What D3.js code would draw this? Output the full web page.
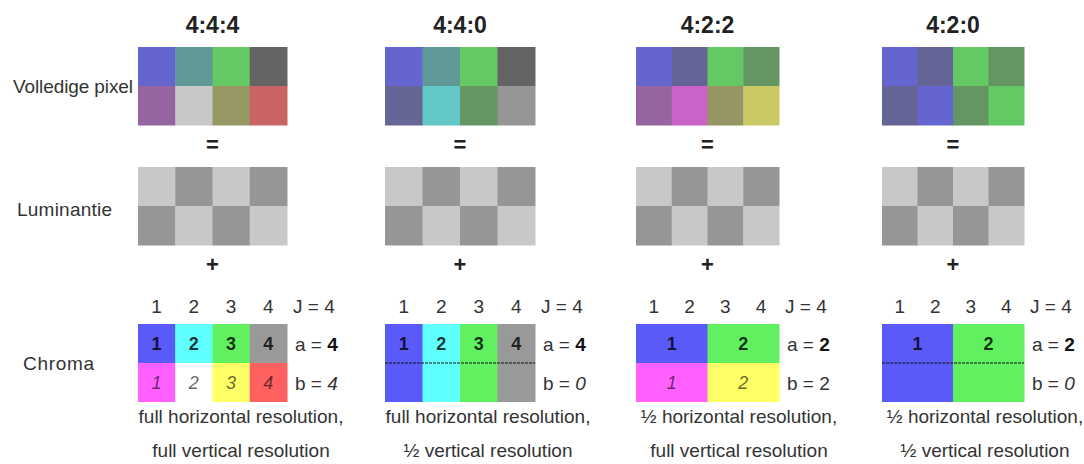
<!DOCTYPE html>
<html>
<head>
<meta charset="utf-8">
<script src="https://cdn.jsdelivr.net/npm/d3@7"></script>
<style>
    body { margin: 0; background: #fff; }
</style>
</head>
<body>
<script>
// chroma subsampling schemes, left to right
const schemes = ['4:4:4', '4:4:0', '4:2:2', '4:2:0'];
const rowLabels = ['Volledige pixel', 'Luminantie', 'Chroma'];

// resulting full pixel colours, [top row, bottom row] per scheme
const pixelColors = [
    [['#6565d0', '#609898', '#64c864', '#646464'], ['#9664a0', '#c8c8c8', '#989864', '#c86464']],
    [['#6565d0', '#609898', '#64c864', '#646464'], ['#656596', '#64c8c8', '#649664', '#969696']],
    [['#6565d0', '#646496', '#64c864', '#649664'], ['#9664a0', '#c864c8', '#969664', '#c8c864']],
    [['#6565d0', '#646496', '#64c864', '#649664'], ['#646496', '#6565d0', '#649664', '#64c864']]
];

// luma is the same checkerboard for every scheme
const lumaColors = [
    ['#c8c8c8', '#969696', '#c8c8c8', '#969696'],
    ['#969696', '#c8c8c8', '#969696', '#c8c8c8']
];

// J:a:b values
const jValues = [4, 4, 4, 4];
const aValues = [4, 4, 2, 2];
const bValues = [4, 0, 2, 0];

// chroma samples: first row (a of them) and second row (b of them)
const chromaTop = [
    ['#5a5af8', '#60ffff', '#60f060', '#999999'],
    ['#5a5af8', '#60ffff', '#60f060', '#999999'],
    ['#5a5af8', '#60f060'],
    ['#5a5af8', '#60f060']
];
const chromaBottom = [
    ['#ff60ff', '#ffffff', '#ffff66', '#ff6060'],
    [],
    ['#ff60ff', '#ffff66'],
    []
];

const captions = [
    ['full horizontal resolution,', 'full vertical resolution'],
    ['full horizontal resolution,', '\u00bd vertical resolution'],
    ['\u00bd horizontal resolution,', 'full vertical resolution'],
    ['\u00bd horizontal resolution,', '\u00bd vertical resolution']
];

// layout
const width = 1084;
const height = 464;
const panelLeft = [138, 385, 636, 882];
const panelWidth = [149, 150, 143, 142];
const gridHeight = 78;
const rowTops = [47, 167, 324];
const font = '"Liberation Sans", Arial, sans-serif';
const textColor = '#333';

const svg = d3.create('svg')
    .attr('width', width)
    .attr('height', height)
    .attr('font-family', font)
    .attr('font-size', 19);

// row labels on the left
const rowLabelPos = [
    { x: 13, y: 93 },
    { x: 17, y: 216 },
    { x: 23, y: 370 }
];
svg.selectAll('text.row-label')
    .data(rowLabels)
    .join('text')
    .attr('class', 'row-label')
    .attr('x', (d, i) => rowLabelPos[i].x)
    .attr('y', (d, i) => rowLabelPos[i].y)
    .attr('fill', textColor)
    .attr('textLength', (d, i) => [120, 95, 71][i])
    .text(d => d);

schemes.forEach((scheme, p) => {
    const left = panelLeft[p];
    const right = left + panelWidth[p];
    const cx = (left + right) / 2;
    const cols = d3.range(jValues[p]);

    const x = d3.scaleBand()
        .domain(cols)
        .range([left, right]);

    const g = svg.append('g');

    // title
    g.append('text')
        .attr('x', cx)
        .attr('y', 33)
        .attr('text-anchor', 'middle')
        .attr('font-weight', 'bold')
        .attr('font-size', 23)
        .attr('fill', '#222')
        .text(scheme);

    // full pixel grid and luma grid
    [pixelColors[p], lumaColors].forEach((rows, r) => {
        const y = d3.scaleBand()
            .domain([0, 1])
            .range([rowTops[r], rowTops[r] + gridHeight]);
        rows.forEach((row, ri) => {
            g.selectAll(null)
                .data(row)
                .join('rect')
                .attr('x', (d, i) => x(i))
                .attr('y', y(ri))
                .attr('width', x.bandwidth() + 0.5)
                .attr('height', y.bandwidth() + 0.5)
                .attr('fill', d => d);
        });
    });

    // operators between rows
    [['=', 152], ['+', 272]].forEach(([sym, yy]) => {
        g.append('text')
            .attr('x', cx)
            .attr('y', yy)
            .attr('text-anchor', 'middle')
            .attr('font-weight', 'bold')
            .attr('font-size', 22)
            .attr('fill', '#222')
            .text(sym);
    });

    // chroma block
    const cy = d3.scaleBand()
        .domain([0, 1])
        .range([rowTops[2], rowTops[2] + gridHeight]);
    const a = aValues[p];
    const b = bValues[p];
    const span = jValues[p] / a;

    // column numbers above
    g.selectAll(null)
        .data(cols)
        .join('text')
        .attr('x', d => x(d) + x.bandwidth() / 2)
        .attr('y', 313)
        .attr('text-anchor', 'middle')
        .attr('fill', textColor)
        .text(d => d + 1);

    const blockW = x.bandwidth() * span;
    const topBlocks = chromaTop[p].map((c, i) => ({ color: c, i }));
    g.selectAll(null)
        .data(topBlocks)
        .join('rect')
        .attr('x', d => x(d.i * span))
        .attr('y', cy(0))
        .attr('width', blockW + 0.5)
        .attr('height', b === 0 ? gridHeight : cy.bandwidth() + 0.5)
        .attr('fill', d => d.color);

    g.selectAll(null)
        .data(chromaBottom[p].map((c, i) => ({ color: c, i })))
        .join('rect')
        .attr('x', d => x(d.i * (jValues[p] / b)))
        .attr('y', cy(1))
        .attr('width', x.bandwidth() * (jValues[p] / b) + 0.5)
        .attr('height', cy.bandwidth())
        .attr('fill', d => d.color);

    // sample numbers
    g.selectAll(null)
        .data(topBlocks)
        .join('text')
        .attr('x', d => x(d.i * span) + blockW / 2)
        .attr('y', cy(0) + cy.bandwidth() / 2 + 6)
        .attr('text-anchor', 'middle')
        .attr('font-weight', 'bold')
        .attr('font-size', 18)
        .attr('fill', '#000')
        .attr('fill-opacity', 0.8)
        .text(d => d.i + 1);

    if (b > 0) {
        const bw = x.bandwidth() * (jValues[p] / b);
        g.selectAll(null)
            .data(chromaBottom[p].map((c, i) => i))
            .join('text')
            .attr('x', d => x(d * (jValues[p] / b)) + bw / 2)
            .attr('y', cy(1) + cy.bandwidth() / 2 + 6)
            .attr('text-anchor', 'middle')
            .attr('font-style', 'italic')
            .attr('font-size', 18)
            .attr('fill', '#000')
            .attr('fill-opacity', 0.6)
            .text(d => d + 1);
    } else {
        // dotted divider where the second row repeats the first
        g.append('line')
            .attr('x1', left)
            .attr('x2', right)
            .attr('y1', cy(1))
            .attr('y2', cy(1))
            .attr('stroke', '#111')
            .attr('stroke-width', 1)
            .attr('stroke-dasharray', '3,1');
    }

    // J, a, b labels on the right
    const lx = right + 6;
    const jText = g.append('text')
        .attr('x', lx)
        .attr('y', 313)
        .attr('fill', textColor);
    jText.append('tspan').text('J = ');
    jText.append('tspan').text(jValues[p]);

    const aText = g.append('text')
        .attr('x', lx + 2)
        .attr('y', cy(0) + cy.bandwidth() / 2 + 7)
        .attr('fill', textColor);
    aText.append('tspan').text('a = ');
    aText.append('tspan').attr('font-weight', 'bold').attr('fill', '#111').text(a);

    const bText = g.append('text')
        .attr('x', lx + 2)
        .attr('y', cy(1) + cy.bandwidth() / 2 + 7)
        .attr('fill', textColor);
    bText.append('tspan').text('b = ');
    bText.append('tspan')
        .attr('font-style', b === 2 ? 'normal' : 'italic')
        .text(b);

    // caption
    g.selectAll(null)
        .data(captions[p])
        .join('text')
        .attr('x', left + 103)
        .attr('y', (d, i) => [423, 457][i])
        .attr('text-anchor', 'middle')
        .attr('fill', textColor)
        .text(d => d);
});

document.querySelector('body').appendChild(svg.node());
</script>
</body>
</html>
